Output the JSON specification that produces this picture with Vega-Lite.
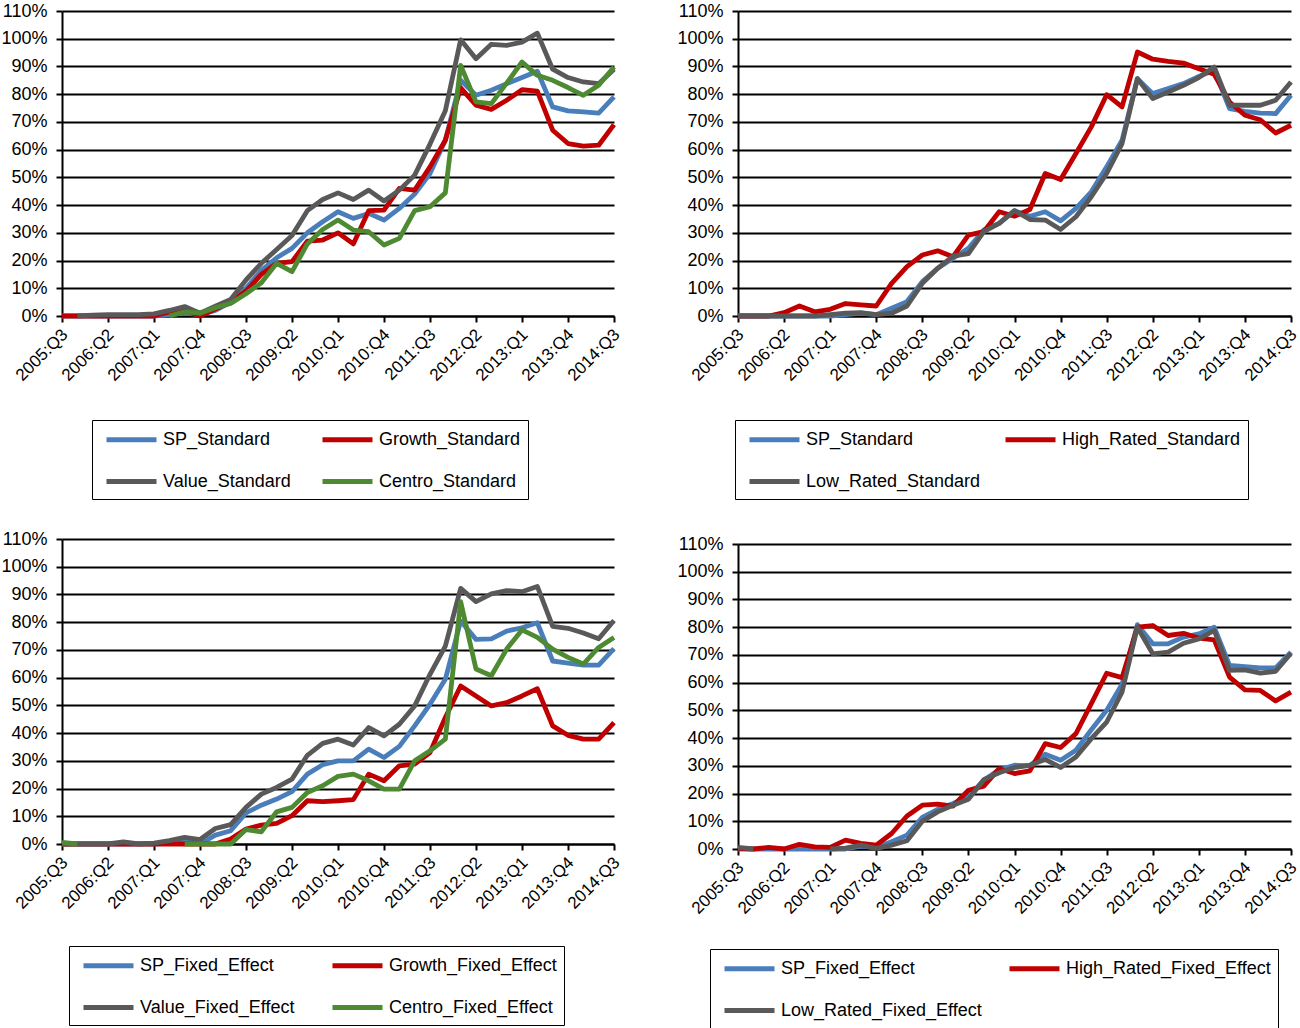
{
  "$schema": "https://vega.github.io/schema/vega-lite/v6.json",
  "padding": {"left": 0, "top": 2, "right": 0, "bottom": 0},
  "background": "white",
  "config": {
    "font": "Liberation Sans",
    "view": {"stroke": null},
    "axis": {"labelFont": "Liberation Sans", "labelColor": "black", "domainColor": "black", "domainWidth": 2, "tickColor": "black", "tickWidth": 2, "tickSize": 6, "title": null},
    "axisX": {"grid": false, "labelFontSize": 17, "labelAngle": -45, "labelPadding": 4, "labelOffset": -3},
    "axisY": {"grid": true, "gridColor": "black", "gridWidth": 2, "gridOpacity": 1, "labelFontSize": 18, "labelPadding": 9},
    "legend": {"labelFont": "Liberation Sans", "labelColor": "black", "labelFontSize": 18, "labelLimit": 400, "symbolType": "M-2.5,0L2.5,0", "symbolSize": 400, "symbolStrokeWidth": 5, "symbolOffset": 20, "labelOffset": 19, "strokeColor": "black", "padding": 7, "rowPadding": 19, "orient": "none", "direction": "horizontal", "columns": 2, "title": null}
  },
  "datasets": {
    "p1": [
      {"q": "2005:Q3", "SP_Standard": 0, "Growth_Standard": 0, "Value_Standard": null, "Centro_Standard": null},
      {"q": "2005:Q4", "SP_Standard": 0, "Growth_Standard": 0, "Value_Standard": 0, "Centro_Standard": null},
      {"q": "2006:Q1", "SP_Standard": 0, "Growth_Standard": 0, "Value_Standard": 0.3, "Centro_Standard": null},
      {"q": "2006:Q2", "SP_Standard": 0, "Growth_Standard": 0, "Value_Standard": 0.5, "Centro_Standard": null},
      {"q": "2006:Q3", "SP_Standard": 0, "Growth_Standard": 0, "Value_Standard": 0.5, "Centro_Standard": null},
      {"q": "2006:Q4", "SP_Standard": 0, "Growth_Standard": 0, "Value_Standard": 0.5, "Centro_Standard": null},
      {"q": "2007:Q1", "SP_Standard": 0, "Growth_Standard": 0, "Value_Standard": 0.8, "Centro_Standard": null},
      {"q": "2007:Q2", "SP_Standard": 0.5, "Growth_Standard": 1.5, "Value_Standard": 2, "Centro_Standard": 0},
      {"q": "2007:Q3", "SP_Standard": 1, "Growth_Standard": 2, "Value_Standard": 3.4, "Centro_Standard": 1.5},
      {"q": "2007:Q4", "SP_Standard": 0.5, "Growth_Standard": 0, "Value_Standard": 1, "Centro_Standard": 1},
      {"q": "2008:Q1", "SP_Standard": 2, "Growth_Standard": 2.5, "Value_Standard": 3.5, "Centro_Standard": 3},
      {"q": "2008:Q2", "SP_Standard": 5, "Growth_Standard": 5, "Value_Standard": 6, "Centro_Standard": 4.5},
      {"q": "2008:Q3", "SP_Standard": 10, "Growth_Standard": 9, "Value_Standard": 13, "Centro_Standard": 8},
      {"q": "2008:Q4", "SP_Standard": 16.5, "Growth_Standard": 15, "Value_Standard": 19, "Centro_Standard": 12},
      {"q": "2009:Q1", "SP_Standard": 21, "Growth_Standard": 19, "Value_Standard": 24, "Centro_Standard": 19},
      {"q": "2009:Q2", "SP_Standard": 24.4, "Growth_Standard": 19.6, "Value_Standard": 29, "Centro_Standard": 16},
      {"q": "2009:Q3", "SP_Standard": 30, "Growth_Standard": 27, "Value_Standard": 38, "Centro_Standard": 26},
      {"q": "2009:Q4", "SP_Standard": 34, "Growth_Standard": 27.4, "Value_Standard": 42, "Centro_Standard": 31.2},
      {"q": "2010:Q1", "SP_Standard": 37.6, "Growth_Standard": 30, "Value_Standard": 44.4, "Centro_Standard": 34.6},
      {"q": "2010:Q2", "SP_Standard": 35.2, "Growth_Standard": 26, "Value_Standard": 42, "Centro_Standard": 31},
      {"q": "2010:Q3", "SP_Standard": 37, "Growth_Standard": 38, "Value_Standard": 45.4, "Centro_Standard": 30.4},
      {"q": "2010:Q4", "SP_Standard": 34.6, "Growth_Standard": 38.2, "Value_Standard": 41.5, "Centro_Standard": 25.6},
      {"q": "2011:Q1", "SP_Standard": 38.8, "Growth_Standard": 46, "Value_Standard": 45.4, "Centro_Standard": 28},
      {"q": "2011:Q2", "SP_Standard": 44, "Growth_Standard": 45.4, "Value_Standard": 50.8, "Centro_Standard": 38},
      {"q": "2011:Q3", "SP_Standard": 51.4, "Growth_Standard": 53.8, "Value_Standard": 62, "Centro_Standard": 39.4},
      {"q": "2011:Q4", "SP_Standard": 63.4, "Growth_Standard": 63.4, "Value_Standard": 74, "Centro_Standard": 44.4},
      {"q": "2012:Q1", "SP_Standard": 85, "Growth_Standard": 82.3, "Value_Standard": 99.6, "Centro_Standard": 90.4},
      {"q": "2012:Q2", "SP_Standard": 79.6, "Growth_Standard": 76, "Value_Standard": 92.8, "Centro_Standard": 77.2},
      {"q": "2012:Q3", "SP_Standard": 81.4, "Growth_Standard": 74.5, "Value_Standard": 98, "Centro_Standard": 76.6},
      {"q": "2012:Q4", "SP_Standard": 83.8, "Growth_Standard": 77.8, "Value_Standard": 97.6, "Centro_Standard": 84},
      {"q": "2013:Q1", "SP_Standard": 86, "Growth_Standard": 81.6, "Value_Standard": 98.8, "Centro_Standard": 91.6},
      {"q": "2013:Q2", "SP_Standard": 88.3, "Growth_Standard": 81.1, "Value_Standard": 102, "Centro_Standard": 86.8},
      {"q": "2013:Q3", "SP_Standard": 75.4, "Growth_Standard": 67, "Value_Standard": 89, "Centro_Standard": 85},
      {"q": "2013:Q4", "SP_Standard": 74, "Growth_Standard": 62.2, "Value_Standard": 86, "Centro_Standard": 82.4},
      {"q": "2014:Q1", "SP_Standard": 73.6, "Growth_Standard": 61.3, "Value_Standard": 84.4, "Centro_Standard": 79.6},
      {"q": "2014:Q2", "SP_Standard": 73.2, "Growth_Standard": 61.6, "Value_Standard": 83.8, "Centro_Standard": 83.2},
      {"q": "2014:Q3", "SP_Standard": 79, "Growth_Standard": 69, "Value_Standard": 89, "Centro_Standard": 89.8}
    ],
    "p2": [
      {"q": "2005:Q3", "SP_Standard": 0, "High_Rated_Standard": 0, "Low_Rated_Standard": 0},
      {"q": "2005:Q4", "SP_Standard": 0, "High_Rated_Standard": 0, "Low_Rated_Standard": 0},
      {"q": "2006:Q1", "SP_Standard": 0, "High_Rated_Standard": 0, "Low_Rated_Standard": 0},
      {"q": "2006:Q2", "SP_Standard": 0, "High_Rated_Standard": 1.2, "Low_Rated_Standard": 0},
      {"q": "2006:Q3", "SP_Standard": 0, "High_Rated_Standard": 3.6, "Low_Rated_Standard": 0},
      {"q": "2006:Q4", "SP_Standard": 0, "High_Rated_Standard": 1.5, "Low_Rated_Standard": 0},
      {"q": "2007:Q1", "SP_Standard": 0, "High_Rated_Standard": 2.4, "Low_Rated_Standard": 0.5},
      {"q": "2007:Q2", "SP_Standard": 0.5, "High_Rated_Standard": 4.5, "Low_Rated_Standard": 1},
      {"q": "2007:Q3", "SP_Standard": 1, "High_Rated_Standard": 4, "Low_Rated_Standard": 1.2},
      {"q": "2007:Q4", "SP_Standard": 0.5, "High_Rated_Standard": 3.6, "Low_Rated_Standard": 0.5},
      {"q": "2008:Q1", "SP_Standard": 2.8, "High_Rated_Standard": 11.8, "Low_Rated_Standard": 1},
      {"q": "2008:Q2", "SP_Standard": 5.2, "High_Rated_Standard": 17.8, "Low_Rated_Standard": 3.6},
      {"q": "2008:Q3", "SP_Standard": 12.4, "High_Rated_Standard": 22, "Low_Rated_Standard": 11.8},
      {"q": "2008:Q4", "SP_Standard": 17.2, "High_Rated_Standard": 23.5, "Low_Rated_Standard": 17.2},
      {"q": "2009:Q1", "SP_Standard": 20.8, "High_Rated_Standard": 21.4, "Low_Rated_Standard": 21.6},
      {"q": "2009:Q2", "SP_Standard": 24.4, "High_Rated_Standard": 29.2, "Low_Rated_Standard": 22.5},
      {"q": "2009:Q3", "SP_Standard": 31, "High_Rated_Standard": 30.4, "Low_Rated_Standard": 30.4},
      {"q": "2009:Q4", "SP_Standard": 33.4, "High_Rated_Standard": 37.6, "Low_Rated_Standard": 33.4},
      {"q": "2010:Q1", "SP_Standard": 38, "High_Rated_Standard": 36, "Low_Rated_Standard": 38},
      {"q": "2010:Q2", "SP_Standard": 36, "High_Rated_Standard": 38.4, "Low_Rated_Standard": 34.8},
      {"q": "2010:Q3", "SP_Standard": 37.6, "High_Rated_Standard": 51.4, "Low_Rated_Standard": 34.6},
      {"q": "2010:Q4", "SP_Standard": 34.3, "High_Rated_Standard": 49.2, "Low_Rated_Standard": 31.2},
      {"q": "2011:Q1", "SP_Standard": 38.8, "High_Rated_Standard": 58.6, "Low_Rated_Standard": 35.8},
      {"q": "2011:Q2", "SP_Standard": 44.8, "High_Rated_Standard": 68.2, "Low_Rated_Standard": 43},
      {"q": "2011:Q3", "SP_Standard": 53.8, "High_Rated_Standard": 79.8, "Low_Rated_Standard": 51.4},
      {"q": "2011:Q4", "SP_Standard": 63.4, "High_Rated_Standard": 75.4, "Low_Rated_Standard": 62.2},
      {"q": "2012:Q1", "SP_Standard": 85.6, "High_Rated_Standard": 95.2, "Low_Rated_Standard": 85.6},
      {"q": "2012:Q2", "SP_Standard": 80.2, "High_Rated_Standard": 92.6, "Low_Rated_Standard": 78.4},
      {"q": "2012:Q3", "SP_Standard": 82, "High_Rated_Standard": 91.8, "Low_Rated_Standard": 80.8},
      {"q": "2012:Q4", "SP_Standard": 83.8, "High_Rated_Standard": 91.2, "Low_Rated_Standard": 83.2},
      {"q": "2013:Q1", "SP_Standard": 86.4, "High_Rated_Standard": 89.2, "Low_Rated_Standard": 86},
      {"q": "2013:Q2", "SP_Standard": 88.6, "High_Rated_Standard": 87.2, "Low_Rated_Standard": 89.8},
      {"q": "2013:Q3", "SP_Standard": 74.8, "High_Rated_Standard": 77.2, "Low_Rated_Standard": 76},
      {"q": "2013:Q4", "SP_Standard": 73.8, "High_Rated_Standard": 72.4, "Low_Rated_Standard": 76},
      {"q": "2014:Q1", "SP_Standard": 73.2, "High_Rated_Standard": 70.8, "Low_Rated_Standard": 76},
      {"q": "2014:Q2", "SP_Standard": 73, "High_Rated_Standard": 66, "Low_Rated_Standard": 77.8},
      {"q": "2014:Q3", "SP_Standard": 79.6, "High_Rated_Standard": 68.8, "Low_Rated_Standard": 84.4}
    ],
    "p3": [
      {"q": "2005:Q3", "SP_Fixed_Effect": 0, "Growth_Fixed_Effect": 0, "Value_Fixed_Effect": 0, "Centro_Fixed_Effect": 0.6},
      {"q": "2005:Q4", "SP_Fixed_Effect": 0, "Growth_Fixed_Effect": 0, "Value_Fixed_Effect": 0, "Centro_Fixed_Effect": 0},
      {"q": "2006:Q1", "SP_Fixed_Effect": 0, "Growth_Fixed_Effect": 0, "Value_Fixed_Effect": 0, "Centro_Fixed_Effect": null},
      {"q": "2006:Q2", "SP_Fixed_Effect": 0, "Growth_Fixed_Effect": 0, "Value_Fixed_Effect": 0, "Centro_Fixed_Effect": null},
      {"q": "2006:Q3", "SP_Fixed_Effect": 0, "Growth_Fixed_Effect": 0, "Value_Fixed_Effect": 0.8, "Centro_Fixed_Effect": null},
      {"q": "2006:Q4", "SP_Fixed_Effect": 0, "Growth_Fixed_Effect": 0, "Value_Fixed_Effect": 0, "Centro_Fixed_Effect": null},
      {"q": "2007:Q1", "SP_Fixed_Effect": 0, "Growth_Fixed_Effect": 0, "Value_Fixed_Effect": 0.3, "Centro_Fixed_Effect": null},
      {"q": "2007:Q2", "SP_Fixed_Effect": 0.5, "Growth_Fixed_Effect": 0, "Value_Fixed_Effect": 1.2, "Centro_Fixed_Effect": null},
      {"q": "2007:Q3", "SP_Fixed_Effect": 1.2, "Growth_Fixed_Effect": 0, "Value_Fixed_Effect": 2.4, "Centro_Fixed_Effect": 0},
      {"q": "2007:Q4", "SP_Fixed_Effect": 0, "Growth_Fixed_Effect": 0, "Value_Fixed_Effect": 1.6, "Centro_Fixed_Effect": 0},
      {"q": "2008:Q1", "SP_Fixed_Effect": 3.2, "Growth_Fixed_Effect": 0, "Value_Fixed_Effect": 5.6, "Centro_Fixed_Effect": 0},
      {"q": "2008:Q2", "SP_Fixed_Effect": 4.8, "Growth_Fixed_Effect": 1.8, "Value_Fixed_Effect": 7, "Centro_Fixed_Effect": 0},
      {"q": "2008:Q3", "SP_Fixed_Effect": 11.2, "Growth_Fixed_Effect": 5.4, "Value_Fixed_Effect": 13.2, "Centro_Fixed_Effect": 5.2},
      {"q": "2008:Q4", "SP_Fixed_Effect": 14, "Growth_Fixed_Effect": 6.8, "Value_Fixed_Effect": 18, "Centro_Fixed_Effect": 4.4},
      {"q": "2009:Q1", "SP_Fixed_Effect": 16.2, "Growth_Fixed_Effect": 7.4, "Value_Fixed_Effect": 20.4, "Centro_Fixed_Effect": 11.6},
      {"q": "2009:Q2", "SP_Fixed_Effect": 18.9, "Growth_Fixed_Effect": 10.2, "Value_Fixed_Effect": 23.4, "Centro_Fixed_Effect": 13.2},
      {"q": "2009:Q3", "SP_Fixed_Effect": 25.2, "Growth_Fixed_Effect": 15.6, "Value_Fixed_Effect": 32, "Centro_Fixed_Effect": 18.6},
      {"q": "2009:Q4", "SP_Fixed_Effect": 28.6, "Growth_Fixed_Effect": 15.3, "Value_Fixed_Effect": 36.3, "Centro_Fixed_Effect": 21},
      {"q": "2010:Q1", "SP_Fixed_Effect": 30, "Growth_Fixed_Effect": 15.6, "Value_Fixed_Effect": 37.8, "Centro_Fixed_Effect": 24.4},
      {"q": "2010:Q2", "SP_Fixed_Effect": 30, "Growth_Fixed_Effect": 16, "Value_Fixed_Effect": 35.7, "Centro_Fixed_Effect": 25.2},
      {"q": "2010:Q3", "SP_Fixed_Effect": 34.2, "Growth_Fixed_Effect": 25.2, "Value_Fixed_Effect": 42, "Centro_Fixed_Effect": 22.8},
      {"q": "2010:Q4", "SP_Fixed_Effect": 31.2, "Growth_Fixed_Effect": 22.8, "Value_Fixed_Effect": 39, "Centro_Fixed_Effect": 19.8},
      {"q": "2011:Q1", "SP_Fixed_Effect": 35.2, "Growth_Fixed_Effect": 28.2, "Value_Fixed_Effect": 43.2, "Centro_Fixed_Effect": 19.8},
      {"q": "2011:Q2", "SP_Fixed_Effect": 42.6, "Growth_Fixed_Effect": 28.8, "Value_Fixed_Effect": 49.8, "Centro_Fixed_Effect": 30},
      {"q": "2011:Q3", "SP_Fixed_Effect": 50.4, "Growth_Fixed_Effect": 33, "Value_Fixed_Effect": 61.2, "Centro_Fixed_Effect": 33.6},
      {"q": "2011:Q4", "SP_Fixed_Effect": 59.4, "Growth_Fixed_Effect": 45.6, "Value_Fixed_Effect": 71.4, "Centro_Fixed_Effect": 37.8},
      {"q": "2012:Q1", "SP_Fixed_Effect": 80.4, "Growth_Fixed_Effect": 57, "Value_Fixed_Effect": 92.2, "Centro_Fixed_Effect": 87.4},
      {"q": "2012:Q2", "SP_Fixed_Effect": 73.8, "Growth_Fixed_Effect": 53.4, "Value_Fixed_Effect": 87.4, "Centro_Fixed_Effect": 63.1},
      {"q": "2012:Q3", "SP_Fixed_Effect": 74, "Growth_Fixed_Effect": 49.8, "Value_Fixed_Effect": 90.2, "Centro_Fixed_Effect": 60.7},
      {"q": "2012:Q4", "SP_Fixed_Effect": 76.8, "Growth_Fixed_Effect": 51, "Value_Fixed_Effect": 91.4, "Centro_Fixed_Effect": 70.3},
      {"q": "2013:Q1", "SP_Fixed_Effect": 78, "Growth_Fixed_Effect": 53.4, "Value_Fixed_Effect": 91, "Centro_Fixed_Effect": 77.2},
      {"q": "2013:Q2", "SP_Fixed_Effect": 79.8, "Growth_Fixed_Effect": 56, "Value_Fixed_Effect": 92.9, "Centro_Fixed_Effect": 74.5},
      {"q": "2013:Q3", "SP_Fixed_Effect": 66, "Growth_Fixed_Effect": 42.6, "Value_Fixed_Effect": 78.5, "Centro_Fixed_Effect": 70.3},
      {"q": "2013:Q4", "SP_Fixed_Effect": 65.2, "Growth_Fixed_Effect": 39.2, "Value_Fixed_Effect": 77.8, "Centro_Fixed_Effect": 67.3},
      {"q": "2014:Q1", "SP_Fixed_Effect": 64.5, "Growth_Fixed_Effect": 37.8, "Value_Fixed_Effect": 76.1, "Centro_Fixed_Effect": 64.9},
      {"q": "2014:Q2", "SP_Fixed_Effect": 64.5, "Growth_Fixed_Effect": 37.8, "Value_Fixed_Effect": 74, "Centro_Fixed_Effect": 70.9},
      {"q": "2014:Q3", "SP_Fixed_Effect": 70.5, "Growth_Fixed_Effect": 43.8, "Value_Fixed_Effect": 80.6, "Centro_Fixed_Effect": 74.5}
    ],
    "p4": [
      {"q": "2005:Q3", "SP_Fixed_Effect": 0, "High_Rated_Fixed_Effect": 0.2, "Low_Rated_Fixed_Effect": 0.6},
      {"q": "2005:Q4", "SP_Fixed_Effect": 0, "High_Rated_Fixed_Effect": 0, "Low_Rated_Fixed_Effect": 0},
      {"q": "2006:Q1", "SP_Fixed_Effect": 0, "High_Rated_Fixed_Effect": 0.6, "Low_Rated_Fixed_Effect": null},
      {"q": "2006:Q2", "SP_Fixed_Effect": 0, "High_Rated_Fixed_Effect": 0, "Low_Rated_Fixed_Effect": null},
      {"q": "2006:Q3", "SP_Fixed_Effect": 0, "High_Rated_Fixed_Effect": 1.7, "Low_Rated_Fixed_Effect": null},
      {"q": "2006:Q4", "SP_Fixed_Effect": 0, "High_Rated_Fixed_Effect": 0.8, "Low_Rated_Fixed_Effect": null},
      {"q": "2007:Q1", "SP_Fixed_Effect": 0, "High_Rated_Fixed_Effect": 0.6, "Low_Rated_Fixed_Effect": 0},
      {"q": "2007:Q2", "SP_Fixed_Effect": 0, "High_Rated_Fixed_Effect": 3.2, "Low_Rated_Fixed_Effect": 0.3},
      {"q": "2007:Q3", "SP_Fixed_Effect": 1, "High_Rated_Fixed_Effect": 2, "Low_Rated_Fixed_Effect": 1.4},
      {"q": "2007:Q4", "SP_Fixed_Effect": 0.5, "High_Rated_Fixed_Effect": 1.4, "Low_Rated_Fixed_Effect": 0.2},
      {"q": "2008:Q1", "SP_Fixed_Effect": 2.6, "High_Rated_Fixed_Effect": 5.6, "Low_Rated_Fixed_Effect": 1.4},
      {"q": "2008:Q2", "SP_Fixed_Effect": 5, "High_Rated_Fixed_Effect": 11.9, "Low_Rated_Fixed_Effect": 3},
      {"q": "2008:Q3", "SP_Fixed_Effect": 11.4, "High_Rated_Fixed_Effect": 15.8, "Low_Rated_Fixed_Effect": 10},
      {"q": "2008:Q4", "SP_Fixed_Effect": 14.3, "High_Rated_Fixed_Effect": 16.2, "Low_Rated_Fixed_Effect": 13.4},
      {"q": "2009:Q1", "SP_Fixed_Effect": 16.4, "High_Rated_Fixed_Effect": 15.5, "Low_Rated_Fixed_Effect": 15.8},
      {"q": "2009:Q2", "SP_Fixed_Effect": 18.8, "High_Rated_Fixed_Effect": 21.2, "Low_Rated_Fixed_Effect": 17.9},
      {"q": "2009:Q3", "SP_Fixed_Effect": 24.8, "High_Rated_Fixed_Effect": 22.7, "Low_Rated_Fixed_Effect": 25},
      {"q": "2009:Q4", "SP_Fixed_Effect": 28.6, "High_Rated_Fixed_Effect": 29, "Low_Rated_Fixed_Effect": 27.5},
      {"q": "2010:Q1", "SP_Fixed_Effect": 30.2, "High_Rated_Fixed_Effect": 27.2, "Low_Rated_Fixed_Effect": 29.4},
      {"q": "2010:Q2", "SP_Fixed_Effect": 30.1, "High_Rated_Fixed_Effect": 28.2, "Low_Rated_Fixed_Effect": 30.2},
      {"q": "2010:Q3", "SP_Fixed_Effect": 34.2, "High_Rated_Fixed_Effect": 38, "Low_Rated_Fixed_Effect": 32.3},
      {"q": "2010:Q4", "SP_Fixed_Effect": 32, "High_Rated_Fixed_Effect": 36.6, "Low_Rated_Fixed_Effect": 29.4},
      {"q": "2011:Q1", "SP_Fixed_Effect": 35.6, "High_Rated_Fixed_Effect": 41.6, "Low_Rated_Fixed_Effect": 33.2},
      {"q": "2011:Q2", "SP_Fixed_Effect": 43, "High_Rated_Fixed_Effect": 52.4, "Low_Rated_Fixed_Effect": 39.8},
      {"q": "2011:Q3", "SP_Fixed_Effect": 50, "High_Rated_Fixed_Effect": 63.4, "Low_Rated_Fixed_Effect": 45.8},
      {"q": "2011:Q4", "SP_Fixed_Effect": 59.4, "High_Rated_Fixed_Effect": 61.8, "Low_Rated_Fixed_Effect": 56.6},
      {"q": "2012:Q1", "SP_Fixed_Effect": 80.9, "High_Rated_Fixed_Effect": 80, "Low_Rated_Fixed_Effect": 80},
      {"q": "2012:Q2", "SP_Fixed_Effect": 74, "High_Rated_Fixed_Effect": 80.6, "Low_Rated_Fixed_Effect": 70.4},
      {"q": "2012:Q3", "SP_Fixed_Effect": 74, "High_Rated_Fixed_Effect": 77, "Low_Rated_Fixed_Effect": 71},
      {"q": "2012:Q4", "SP_Fixed_Effect": 76.4, "High_Rated_Fixed_Effect": 77.8, "Low_Rated_Fixed_Effect": 74.2},
      {"q": "2013:Q1", "SP_Fixed_Effect": 77.6, "High_Rated_Fixed_Effect": 76.1, "Low_Rated_Fixed_Effect": 75.8},
      {"q": "2013:Q2", "SP_Fixed_Effect": 80, "High_Rated_Fixed_Effect": 75.4, "Low_Rated_Fixed_Effect": 78.8},
      {"q": "2013:Q3", "SP_Fixed_Effect": 66.2, "High_Rated_Fixed_Effect": 62, "Low_Rated_Fixed_Effect": 64.4},
      {"q": "2013:Q4", "SP_Fixed_Effect": 65.8, "High_Rated_Fixed_Effect": 57.4, "Low_Rated_Fixed_Effect": 64.6},
      {"q": "2014:Q1", "SP_Fixed_Effect": 65.3, "High_Rated_Fixed_Effect": 57.2, "Low_Rated_Fixed_Effect": 63.4},
      {"q": "2014:Q2", "SP_Fixed_Effect": 65.3, "High_Rated_Fixed_Effect": 53.4, "Low_Rated_Fixed_Effect": 64.1},
      {"q": "2014:Q3", "SP_Fixed_Effect": 71, "High_Rated_Fixed_Effect": 56.6, "Low_Rated_Fixed_Effect": 70.6}
    ]
  },
  "spacing": 53,
  "resolve": {"scale": {"color": "independent"}, "legend": {"color": "independent"}},
  "hconcat": [
    {
      "spacing": 30,
      "resolve": {"scale": {"color": "independent"}, "legend": {"color": "independent"}},
      "vconcat": [
        {
          "width": 552, "height": 305,
          "data": {"name": "p1"},
          "transform": [{"fold": ["SP_Standard", "Growth_Standard", "Value_Standard", "Centro_Standard"], "as": ["series", "value"]}],
          "mark": {"type": "line", "strokeWidth": 4.8, "strokeJoin": "round"},
          "encoding": {
            "x": {"field": "q", "type": "ordinal", "scale": {"type": "point", "padding": 0}, "axis": {"values": ["2005:Q3", "2006:Q2", "2007:Q1", "2007:Q4", "2008:Q3", "2009:Q2", "2010:Q1", "2010:Q4", "2011:Q3", "2012:Q2", "2013:Q1", "2013:Q4", "2014:Q3"]}},
            "y": {"field": "value", "type": "quantitative", "scale": {"domain": [0, 110], "nice": false}, "axis": {"values": [0, 10, 20, 30, 40, 50, 60, 70, 80, 90, 100, 110], "labelExpr": "datum.value + '%'"}},
            "color": {"field": "series", "type": "nominal", "sort": null, "scale": {"domain": ["SP_Standard", "Growth_Standard", "Value_Standard", "Centro_Standard"], "range": ["#4a7ebb", "#c00000", "#595959", "#4e8a32"]}, "legend": {"legendX": 30, "legendY": 409, "columnPadding": 21}}
          }
        },
        {
          "width": 552, "height": 305,
          "data": {"name": "p3"},
          "transform": [{"fold": ["SP_Fixed_Effect", "Growth_Fixed_Effect", "Value_Fixed_Effect", "Centro_Fixed_Effect"], "as": ["series", "value"]}],
          "mark": {"type": "line", "strokeWidth": 4.8, "strokeJoin": "round"},
          "encoding": {
            "x": {"field": "q", "type": "ordinal", "scale": {"type": "point", "padding": 0}, "axis": {"values": ["2005:Q3", "2006:Q2", "2007:Q1", "2007:Q4", "2008:Q3", "2009:Q2", "2010:Q1", "2010:Q4", "2011:Q3", "2012:Q2", "2013:Q1", "2013:Q4", "2014:Q3"]}},
            "y": {"field": "value", "type": "quantitative", "scale": {"domain": [0, 110], "nice": false}, "axis": {"values": [0, 10, 20, 30, 40, 50, 60, 70, 80, 90, 100, 110], "labelExpr": "datum.value + '%'"}},
            "color": {"field": "series", "type": "nominal", "sort": null, "scale": {"domain": ["SP_Fixed_Effect", "Growth_Fixed_Effect", "Value_Fixed_Effect", "Centro_Fixed_Effect"], "range": ["#4a7ebb", "#c00000", "#595959", "#4e8a32"]}, "legend": {"legendX": 7, "legendY": 407, "columnPadding": 27}}
          }
        }
      ]
    },
    {
      "spacing": 35,
      "resolve": {"scale": {"color": "independent"}, "legend": {"color": "independent"}},
      "vconcat": [
        {
          "width": 553, "height": 305,
          "data": {"name": "p2"},
          "transform": [{"fold": ["SP_Standard", "High_Rated_Standard", "Low_Rated_Standard"], "as": ["series", "value"]}],
          "mark": {"type": "line", "strokeWidth": 4.8, "strokeJoin": "round"},
          "encoding": {
            "x": {"field": "q", "type": "ordinal", "scale": {"type": "point", "padding": 0}, "axis": {"values": ["2005:Q3", "2006:Q2", "2007:Q1", "2007:Q4", "2008:Q3", "2009:Q2", "2010:Q1", "2010:Q4", "2011:Q3", "2012:Q2", "2013:Q1", "2013:Q4", "2014:Q3"]}},
            "y": {"field": "value", "type": "quantitative", "scale": {"domain": [0, 110], "nice": false}, "axis": {"values": [0, 10, 20, 30, 40, 50, 60, 70, 80, 90, 100, 110], "labelExpr": "datum.value + '%'"}},
            "color": {"field": "series", "type": "nominal", "sort": null, "scale": {"domain": ["SP_Standard", "High_Rated_Standard", "Low_Rated_Standard"], "range": ["#4a7ebb", "#c00000", "#595959"]}, "legend": {"legendX": -3, "legendY": 409, "columnPadding": 14}}
          }
        },
        {
          "width": 553, "height": 305,
          "data": {"name": "p4"},
          "transform": [{"fold": ["SP_Fixed_Effect", "High_Rated_Fixed_Effect", "Low_Rated_Fixed_Effect"], "as": ["series", "value"]}],
          "mark": {"type": "line", "strokeWidth": 4.8, "strokeJoin": "round"},
          "encoding": {
            "x": {"field": "q", "type": "ordinal", "scale": {"type": "point", "padding": 0}, "axis": {"values": ["2005:Q3", "2006:Q2", "2007:Q1", "2007:Q4", "2008:Q3", "2009:Q2", "2010:Q1", "2010:Q4", "2011:Q3", "2012:Q2", "2013:Q1", "2013:Q4", "2014:Q3"]}},
            "y": {"field": "value", "type": "quantitative", "scale": {"domain": [0, 110], "nice": false}, "axis": {"values": [0, 10, 20, 30, 40, 50, 60, 70, 80, 90, 100, 110], "labelExpr": "datum.value + '%'"}},
            "color": {"field": "series", "type": "nominal", "sort": null, "scale": {"domain": ["SP_Fixed_Effect", "High_Rated_Fixed_Effect", "Low_Rated_Fixed_Effect"], "range": ["#4a7ebb", "#c00000", "#595959"]}, "legend": {"legendX": -28, "legendY": 405, "columnPadding": 17}}
          }
        }
      ]
    }
  ]
}
